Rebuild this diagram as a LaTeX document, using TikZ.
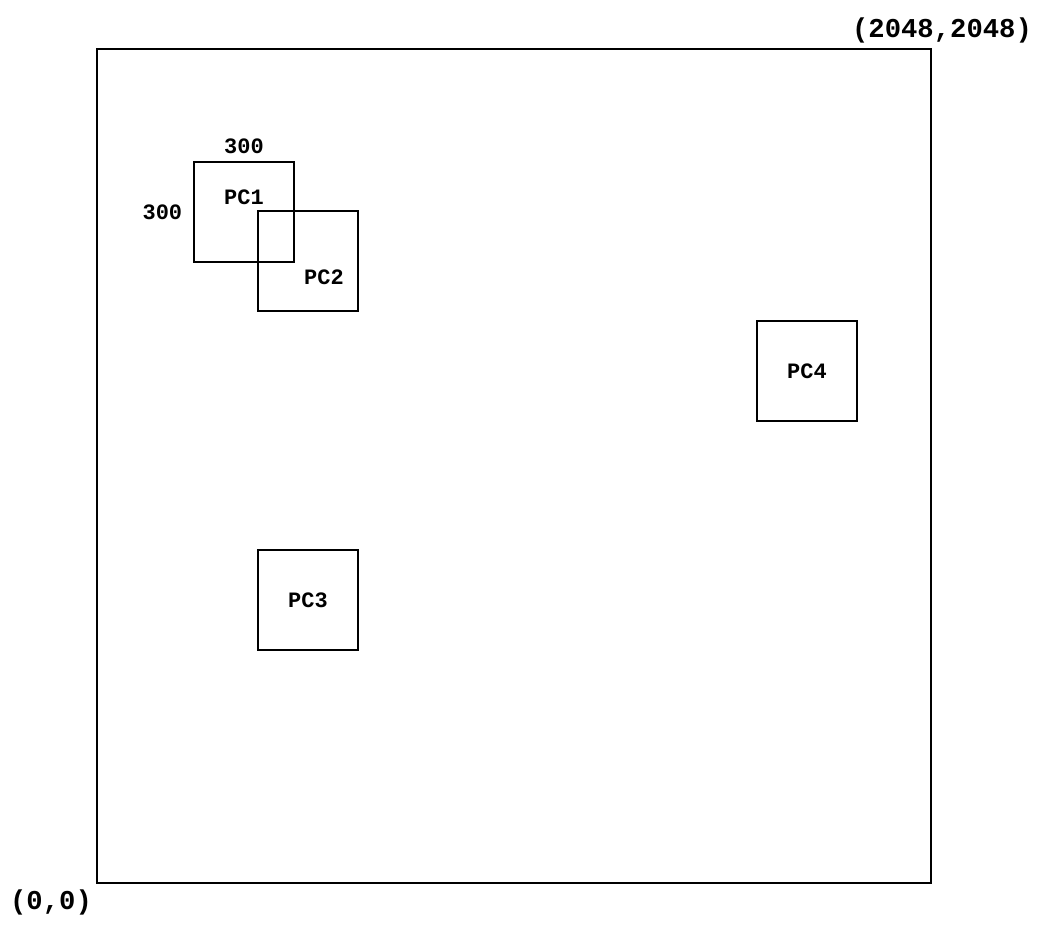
\documentclass[tikz,border=0pt]{standalone}
\usepackage{fontspec}
\setmonofont{Liberation Mono}
\usetikzlibrary{positioning,calc}
\tikzset{
  pcbox/.style={draw, line width=1.1pt, minimum size=2cm, inner sep=0pt},
  pclbl/.style={font=\ttfamily\bfseries\fontsize{12.5}{12.5}\selectfont, inner sep=0pt},
  coordlbl/.style={font=\ttfamily\bfseries\fontsize{15.5}{15.5}\selectfont, inner sep=0pt},
  areabox/.style={draw, line width=1.1pt},
}
\begin{document}
\begin{tikzpicture}[x=0.02cm, y=-0.02cm]
  \useasboundingbox (0,0) rectangle (1040,936);

  % area 2048 x 2048
  \coordinate (lo) at (97,883);
  \coordinate (hi) at (931,49);
  \draw[areabox] (lo) rectangle (hi);
  \node[coordlbl] (lolbl) at (51,902) {(0,0)};
  \node[coordlbl] (hilbl) at (942,30) {(2048,2048)};

  % pcs
  \node[pcbox] (pc1) at (244,212) {};
  \node[pcbox] (pc2) at (308,261) {};
  \node[pcbox] (pc3) at (308,600) {};
  \node[pcbox] (pc4) at (807,371) {};

  \node[pclbl] (pc1t) at ($(pc1.center)+(0,-15)$) {PC1};
  \node[pclbl] (pc2t) at ($(pc2.center)+(16,16)$) {PC2};
  \node[pclbl] (pc3t) at (pc3.center) {PC3};
  \node[pclbl] (pc4t) at (pc4.center) {PC4};

  % size of a pc
  \node[pclbl, above=4pt of pc1.north] (wlbl) {300};
  \node[pclbl, left=6pt of pc1.west] (hlbl) {300};
\end{tikzpicture}
\end{document}
